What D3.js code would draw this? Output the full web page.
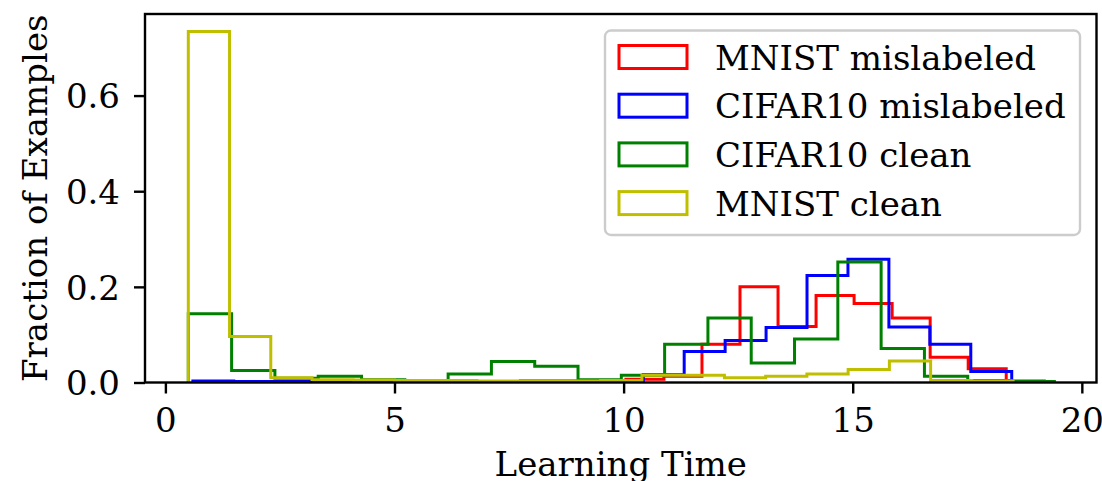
<!DOCTYPE html>
<html lang="en">
<head>
<meta charset="utf-8">
<title>Learning time histogram</title>
<script src="https://d3js.org/d3.v7.min.js"></script>
<style>
  body { margin: 0; background: white; }
  text { font-family: 'DejaVu Serif', serif; fill: black; }
</style>
</head>
<body>
<svg id="chart" width="1102" height="481"></svg>
<script>
// histogram bin fractions, 20 bins each
const seriesNames = ["MNIST mislabeled", "CIFAR10 mislabeled", "CIFAR10 clean", "MNIST clean"];
const seriesColors = ["#ff0000", "#0000ff", "#008000", "#bfbf00"];
// [first edge, last edge] of each series' bins
const binRanges = [[2.58, 19.18], [0.6, 18.47], [0.5, 19.4], [0.5, 18.5]];

const mnistMislabeled = [0.002, 0.002, 0.002, 0.002, 0.002, 0.002, 0.002, 0.002, 0.002, 0.007,
                         0.013, 0.080, 0.200, 0.117, 0.182, 0.165, 0.135, 0.053, 0.029, 0.003];
const cifarMislabeled = [0.003, 0.002, 0.002, 0.002, 0.002, 0.002, 0.002, 0.002, 0.003, 0.003,
                         0.002, 0.016, 0.065, 0.088, 0.115, 0.224, 0.258, 0.116, 0.080, 0.023];
const cifarClean      = [0.144, 0.025, 0.009, 0.013, 0.006, 0.004, 0.018, 0.044, 0.034, 0.006,
                         0.015, 0.080, 0.135, 0.041, 0.091, 0.252, 0.071, 0.013, 0.004, 0.002];
const mnistClean      = [0.734, 0.096, 0.010, 0.006, 0.005, 0.004, 0.004, 0.003, 0.003, 0.003,
                         0.004, 0.015, 0.015, 0.010, 0.013, 0.018, 0.027, 0.045, 0.004, 0.003];
const seriesValues = [mnistMislabeled, cifarMislabeled, cifarClean, mnistClean];

const xTicks = [0, 5, 10, 15, 20];
const yTicks = [0.0, 0.2, 0.4, 0.6];

const svg = d3.select("#chart");
const plotLeft = 145, plotRight = 1096.5, plotTop = 14, plotBottom = 382.5;

let x = d3.scaleLinear().domain([-0.445, 20.32]).range([plotLeft, plotRight]);
let y = d3.scaleLinear().domain([0, 0.7706]).range([plotBottom, plotTop]);

// step outlines
let line = d3.line().x(d => x(d[0])).y(d => y(d[1]));
seriesValues.forEach((vals, i) => {
  let lo = binRanges[i][0], hi = binRanges[i][1];
  let w = (hi - lo) / vals.length;
  let pts = [[lo, 0]];
  vals.forEach((v, j) => {
    pts.push([lo + j * w, v]);
    pts.push([lo + (j + 1) * w, v]);
  });
  pts.push([hi, 0]);
  svg.append("path")
     .datum(pts)
     .attr("fill", "none")
     .attr("stroke", seriesColors[i])
     .attr("stroke-width", 3)
     .attr("stroke-linejoin", "miter")
     .attr("d", line);
});

// axes
let xAxis = d3.axisBottom(x).tickValues(xTicks).tickFormat(d3.format("d"))
              .tickSize(11).tickPadding(14);
let yAxis = d3.axisLeft(y).tickValues(yTicks).tickFormat(d3.format(".1f"))
              .tickSize(11).tickPadding(14);

let gx = svg.append("g").attr("transform", `translate(0,${plotBottom})`).call(xAxis);
let gy = svg.append("g").attr("transform", `translate(${plotLeft},0)`).call(yAxis);
[gx, gy].forEach(g => {
  g.select(".domain").remove();
  g.selectAll(".tick line").attr("stroke", "black").attr("stroke-width", 2.4);
  g.selectAll(".tick text").style("font-size", "34px").attr("font-family", "DejaVu Serif");
});
gx.selectAll(".tick text").attr("dy", "0.73em");
gy.selectAll(".tick text").attr("dy", "0.36em");

svg.append("rect")
   .attr("x", plotLeft).attr("y", plotTop)
   .attr("width", plotRight - plotLeft).attr("height", plotBottom - plotTop)
   .attr("fill", "none").attr("stroke", "black").attr("stroke-width", 2.4);

// axis labels
svg.append("text")
   .attr("x", (plotLeft + plotRight) / 2).attr("y", 476)
   .attr("text-anchor", "middle").style("font-size", "34px")
   .text("Learning Time");
svg.append("text")
   .attr("transform", `translate(46.5,${(plotTop + plotBottom) / 2}) rotate(-90)`)
   .attr("text-anchor", "middle").style("font-size", "34px")
   .text("Fraction of Examples");

// legend
let legend = svg.append("g");
legend.append("rect")
   .attr("x", 605).attr("y", 30.5).attr("width", 475).attr("height", 204.5)
   .attr("rx", 6).attr("fill", "white").attr("fill-opacity", 0.8)
   .attr("stroke", "#cccccc").attr("stroke-width", 2.4);
seriesNames.forEach((name, i) => {
  let cy = 57 + i * 48.7;
  legend.append("rect")
     .attr("x", 619).attr("y", cy - 11.5).attr("width", 68).attr("height", 23)
     .attr("fill", "none").attr("stroke", seriesColors[i]).attr("stroke-width", 3);
  legend.append("text")
     .attr("x", 715).attr("y", cy + 12.5)
     .style("font-size", "34px")
     .text(name);
});
</script>
</body>
</html>
